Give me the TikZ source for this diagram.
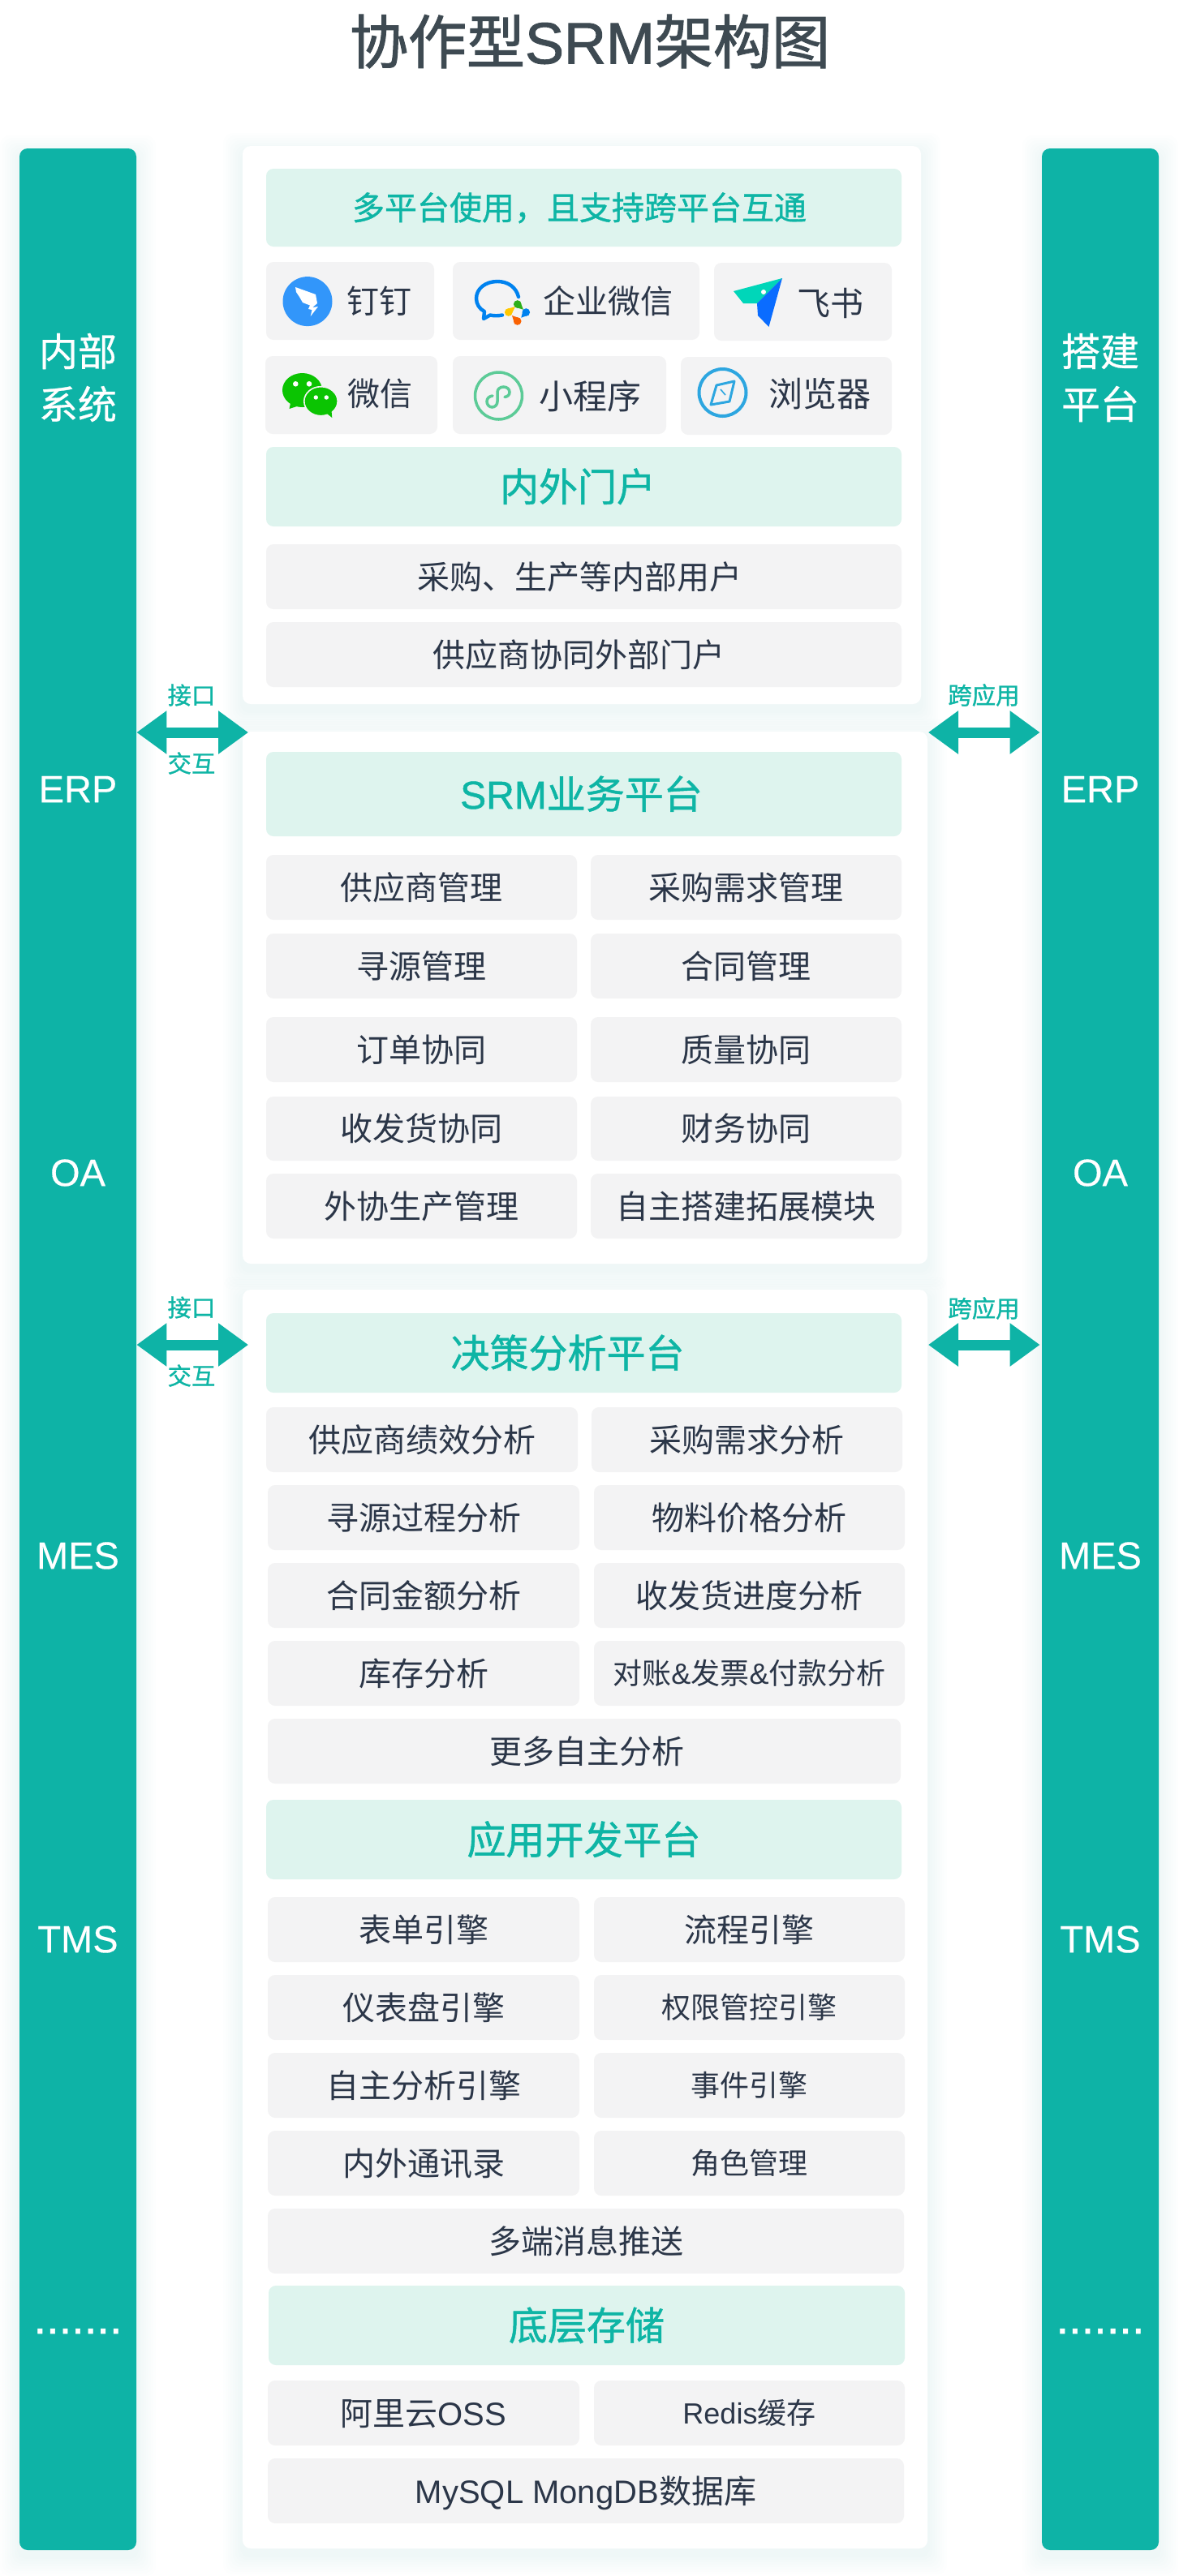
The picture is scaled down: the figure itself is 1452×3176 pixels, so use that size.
\documentclass[tikz,border=0pt]{standalone}
\usepackage{fontspec}
\usetikzlibrary{arrows.meta,calc}
\setmainfont{Noto Sans CJK SC}
\newfontfamily\latf{Liberation Sans}
\newfontfamily\medf[FakeBold=1.0]{Noto Sans CJK SC}
\newfontfamily\medlat[FakeBold=1.0]{Liberation Sans}
\newfontfamily\sidef[FakeBold=0.6]{Noto Sans CJK SC}
\newfontfamily\sidelatf[FakeBold=0.3]{Liberation Sans}
\newfontfamily\titf[FakeBold=1.4]{Noto Sans CJK SC}
\newfontfamily\titlat[FakeBold=1.4]{Liberation Sans}
\definecolor{brand}{HTML}{0EB3A6}
\definecolor{headbg}{HTML}{DEF4EE}
\definecolor{headtx}{HTML}{0EB5A5}
\definecolor{cellbg}{HTML}{F3F3F4}
\definecolor{celltx}{HTML}{2B3648}
\definecolor{titletx}{HTML}{3E4A52}
\definecolor{ddblue}{HTML}{3296FA}
\definecolor{wwblue}{HTML}{0082EF}
\definecolor{wwgreen}{HTML}{2DAF1A}
\definecolor{wwyellow}{HTML}{FFC800}
\definecolor{wworange}{HTML}{FA6202}
\definecolor{fsteal}{HTML}{00D6B9}
\definecolor{fsdark}{HTML}{00BFA5}
\definecolor{fsblue}{HTML}{0A6CFF}
\definecolor{wxgreen}{HTML}{0BC402}
\definecolor{mpgreen}{HTML}{5CCB97}
\definecolor{brblue}{HTML}{2DA6E0}
\newcommand\fs[1]{\fontsize{#1pt}{#1pt}\selectfont}
\newcommand\off[3]{\makebox[0pt]{\hspace*{#1pt}\raisebox{\dimexpr -#2pt/2\relax}{#3}}}
\newcommand\tbx[7][graybox]{\node[#1,minimum width={(#5-#3)*0.5pt},minimum height={(#6-#4)*0.5pt}] (#2) at ({(#3+#5)/2},{(#4+#6)/2}) {#7};}
\newcommand\softshadow[4]{\foreach \i in {1,...,8}{\fill[brand,opacity=0.008,rounded corners=6pt] ({#1-3*\i},{#2-3*\i+8}) rectangle ({#3+3*\i},{#4+3*\i+8});}}
\newcommand\petal[5]{\fill[#5] (#1,#2) circle[radius=4.8];\fill[#5] ($(#1,#2)!2.4pt!90:(#3,#4)$) -- (#3,#4) -- ($(#1,#2)!2.4pt!-90:(#3,#4)$) -- cycle;}
\tikzset{
 graybox/.style={fill=cellbg,rounded corners=4.5pt,inner sep=0pt,text=celltx,font=\fs{20},text height=17.5pt,text depth=2.5pt},
 smallbox/.style={graybox,font=\fs{18},text height=15.75pt,text depth=2.25pt},
 headbox/.style={fill=headbg,rounded corners=4.5pt,inner sep=0pt,text=headtx,font=\medf\fs{24},text height=21pt,text depth=3pt},
 headsmall/.style={headbox,font=\medf\fs{20},text height=17.5pt,text depth=2.5pt},
 cardbox/.style={fill=white,rounded corners=5pt,inner sep=0pt},
 sidebar/.style={fill=brand,rounded corners=5pt,inner sep=0pt},
 sidetext/.style={text=white,font=\sidef\fs{24},inner sep=0pt},
 sidelat/.style={text=white,font=\sidelatf\fs{23.5},inner sep=0pt},
 linklabel/.style={text=headtx,font=\medf\fs{14.7},inner sep=0pt},
 dblarrow/.style={brand,line width=6.5pt,{Triangle[length=18.5pt,width=25.5pt]}-{Triangle[length=18.5pt,width=25.5pt]}}
}
\begin{document}
\begin{tikzpicture}[x=0.5pt,y=-0.5pt]
\useasboundingbox (0,0) rectangle (1452,3176);
\fill[white] (0,0) rectangle (1452,3176);
\node[text=titletx,font=\titf\fs{36},inner sep=0pt] (title) at (727,51) {协作型{\titlat SRM}架构图};
% side bars
\softshadow{24}{183}{168}{3144}
\softshadow{1284}{183}{1428}{3144}
\tbx[sidebar]{barL}{24}{183}{168}{3144}{}
\tbx[sidebar]{barR}{1284}{183}{1428}{3144}{}
\node[sidetext] (ln1) at (96,433) {内部};
\node[sidetext] (ln2) at (96,498) {系统};
\node[sidetext] (rn1) at (1356,433) {搭建};
\node[sidetext] (rn2) at (1356,498) {平台};
\node[sidelat] (l1) at (96,973) {ERP};
\node[sidelat] (l2) at (96,1446) {OA};
\node[sidelat] (l3) at (96,1918) {MES};
\node[sidelat] (l4) at (96,2391) {TMS};
\node[sidelat,font=\medlat\fs{28}] (l5) at (96,2874) {.......};
\node[sidelat] (r1) at (1356,973) {ERP};
\node[sidelat] (r2) at (1356,1446) {OA};
\node[sidelat] (r3) at (1356,1918) {MES};
\node[sidelat] (r4) at (1356,2391) {TMS};
\node[sidelat,font=\medlat\fs{28}] (r5) at (1356,2874) {.......};
% cards
\softshadow{299}{180}{1135}{868}
\tbx[cardbox]{card1}{299}{180}{1135}{868}{}
\softshadow{299}{902}{1143}{1558}
\tbx[cardbox]{card2}{299}{902}{1143}{1558}{}
\softshadow{299}{1590}{1143}{3142}
\tbx[cardbox]{card3}{299}{1590}{1143}{3142}{}
% portal
\tbx[headsmall]{h0}{328}{208}{1111}{304}{\off{-5.5}{0}{多平台使用，且支持跨平台互通}}
\tbx{i1}{328}{323}{535}{419}{\off{36}{0}{钉钉}}
\tbx{i2}{558}{323}{862}{419}{\off{39}{0}{企业微信}}
\tbx{i3}{880}{324}{1099}{420}{\off{34}{2}{\fs{20.5}飞书}}
\tbx{i4}{327}{439}{539}{535}{\off{35}{-2}{微信}}
\tbx{i5}{558}{439}{821}{535}{\off{37.5}{2}{\fs{21}小程序}}
\tbx{i6}{839}{440}{1099}{536}{\off{41}{-2}{\fs{21}浏览器}}
\tbx[headbox]{h1}{328}{551}{1111}{649}{\off{-7.5}{0}{内外门户}}
\tbx{p1}{328}{671}{1111}{751}{\off{-5.5}{0}{采购、生产等内部用户}}
\tbx{p2}{328}{767}{1111}{847}{\off{-6.5}{0}{供应商协同外部门户}}
% icons
\fill[ddblue] (379,371.6) circle[radius=30.5];
\fill[white] (364,354) -- (389,363) -- (391,374) -- (385,379) -- (392,378) -- (382.7,390) -- (384.5,382) -- (380,381) -- (382,376.5) -- (373,373) -- (369,366) -- (365,360) -- cycle;
\draw[wwblue,line width=2.2pt,line join=round,line cap=round] (639,366) .. controls (636,354) and (626,347) .. (613,347) .. controls (598,347) and (587,356) .. (587,368) .. controls (587,375) and (591,381) .. (597,384) -- (596,393) -- (604,388.5) .. controls (609,389.5) and (614,389.5) .. (619,388.5);
\petal{637.7}{375}{645}{381.7}{wwgreen}
\petal{626.7}{385}{635}{378}{wwyellow}
\petal{648.3}{385}{642.3}{391.7}{wwblue}
\petal{637.7}{396}{631}{389}{wworange}
\fill[fsteal] (904,359) -- (964,343) -- (933,374) -- (916,374) -- cycle;
\fill[fsdark] (933,374) -- (950,356) -- (964,343) -- (944,362) -- cycle;
\fill[fsblue] (964,343) -- (947.5,403) -- (934,389) -- (933,374) -- cycle;
\fill[white] (941,360) circle[radius=3];
\fill[wxgreen] (372.5,481) ellipse[x radius=24.5,y radius=21];
\fill[wxgreen] (358,497) -- (356.5,504) -- (369,500) -- cycle;
\draw[cellbg,line width=0.8pt,fill=wxgreen] (395.5,494.7) ellipse[x radius=20.7,y radius=18];
\fill[wxgreen] (403,510) -- (409.3,515) -- (408.5,506) -- cycle;
\fill[white] (364.3,473.3) circle[radius=3.3] (381,473.3) circle[radius=3.3] (389.3,490) circle[radius=2.7] (402.3,490) circle[radius=2.7];
\draw[mpgreen,line width=1.75pt] (614.5,488) circle[radius=29];
\draw[mpgreen,line width=1.75pt,line cap=round] (607,488) .. controls (603,488.5) and (600,491) .. (600,495) .. controls (600,499) and (603,502) .. (606.5,502) .. controls (610,502) and (613,499) .. (613,495) -- (613,483.5) .. controls (613,480) and (616,477) .. (620.5,477) .. controls (625,477) and (628,480) .. (628,483.5) .. controls (628,487) and (625.5,489) .. (622,489.5);
\draw[brblue,line width=2pt] (890.5,484) circle[radius=29];
\draw[brblue,line width=1.5pt,line join=round] (905,470) -- (899,495) -- (876,499) -- (883,475) -- cycle;
\draw[brblue,line width=0.8pt] (888,480) -- (894,487);
% SRM
\tbx[headbox]{h2}{328}{927}{1111}{1031}{\off{-3}{0}{{\medlat SRM}业务平台}}
\tbx{s11}{328}{1054}{711}{1134}{供应商管理}
\tbx{s12}{728}{1054}{1111}{1134}{采购需求管理}
\tbx{s21}{328}{1151}{711}{1231}{寻源管理}
\tbx{s22}{728}{1151}{1111}{1231}{合同管理}
\tbx{s31}{328}{1254}{711}{1334}{订单协同}
\tbx{s32}{728}{1254}{1111}{1334}{质量协同}
\tbx{s41}{328}{1352}{711}{1431}{收发货协同}
\tbx{s42}{728}{1352}{1111}{1431}{财务协同}
\tbx{s51}{328}{1447}{711}{1527}{外协生产管理}
\tbx{s52}{728}{1447}{1111}{1527}{自主搭建拓展模块}
% decision
\tbx[headbox]{h3}{328}{1619}{1111}{1717}{\off{-20}{0}{决策分析平台}}
\tbx{d11}{328}{1735}{712}{1815}{供应商绩效分析}
\tbx{d12}{729}{1735}{1112}{1815}{采购需求分析}
\tbx{d21}{330}{1831}{714}{1911}{寻源过程分析}
\tbx{d22}{732}{1831}{1115}{1911}{物料价格分析}
\tbx{d31}{330}{1927}{714}{2007}{合同金额分析}
\tbx{d32}{732}{1927}{1115}{2007}{收发货进度分析}
\tbx{d41}{330}{2023}{714}{2103}{库存分析}
\tbx[smallbox]{d42}{732}{2023}{1115}{2103}{对账{\latf\&}发票{\latf\&}付款分析}
\tbx{d5}{330}{2119}{1110}{2199}{\off{3}{0}{更多自主分析}}
% app dev
\tbx[headbox]{h4}{328}{2219}{1111}{2317}{应用开发平台}
\tbx{a11}{330}{2339}{714}{2419}{表单引擎}
\tbx{a12}{732}{2339}{1115}{2419}{流程引擎}
\tbx{a21}{330}{2435}{714}{2515}{仪表盘引擎}
\tbx[smallbox]{a22}{732}{2435}{1115}{2515}{权限管控引擎}
\tbx{a31}{330}{2531}{714}{2611}{自主分析引擎}
\tbx[smallbox]{a32}{732}{2531}{1115}{2611}{事件引擎}
\tbx{a41}{330}{2627}{714}{2707}{内外通讯录}
\tbx[smallbox]{a42}{732}{2627}{1115}{2707}{角色管理}
\tbx{a5}{330}{2723}{1114}{2803}{多端消息推送}
% storage
\tbx[headbox]{h5}{331}{2818}{1115}{2916}{底层存储}
\tbx{b11}{330}{2935}{714}{3015}{阿里云{\latf OSS}}
\tbx[smallbox]{b12}{732}{2935}{1115}{3015}{{\latf Redis}缓存}
\tbx{b2}{330}{3031}{1114}{3111}{{\latf MySQL MongDB}数据库}
% connectors
\coordinate (aL1) at (306,903);
\coordinate (aL2) at (306,1658);
\coordinate (aR1) at (1144,903);
\coordinate (aR2) at (1144,1658);
\draw[dblarrow] (barL.east |- aL1) -- (aL1);
\draw[dblarrow] (barL.east |- aL2) -- (aL2);
\draw[dblarrow] (aR1) -- ([xshift=-1pt]barR.west |- aR1);
\draw[dblarrow] (aR2) -- ([xshift=-1pt]barR.west |- aR2);
\node[linklabel] (t1) at (236,857) {接口};
\node[linklabel] (t2) at (236,941) {交互};
\node[linklabel] (t3) at (236,1612) {接口};
\node[linklabel] (t4) at (236,1696) {交互};
\node[linklabel] (t5) at (1212.5,857) {跨应用};
\node[linklabel] (t6) at (1212.5,1613) {跨应用};
\end{tikzpicture}
\end{document}
